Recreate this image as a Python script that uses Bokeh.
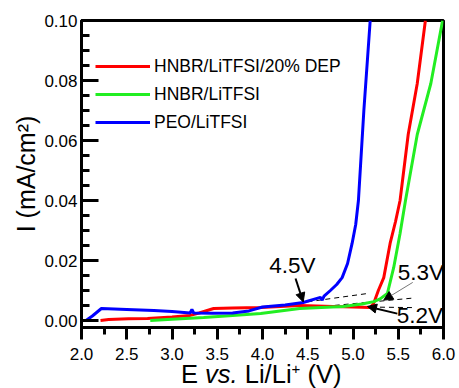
from bokeh.plotting import figure
from bokeh.layouts import column
from bokeh.models import (Range1d, SingleIntervalTicker, PrintfTickFormatter, Label,
                          Arrow, NormalHead, Legend, LegendItem, Div)
from bokeh.embed import file_html
from bokeh.resources import INLINE

# ---- data ----
blue_x = [2.05, 2.12, 2.22, 2.5, 2.8, 3.0, 3.2, 3.22, 3.24, 3.45, 3.67, 3.85, 4.0, 4.25, 4.45,
          4.64, 4.66, 4.68, 4.75, 4.82, 4.88, 4.94, 4.99, 5.03, 5.06, 5.12, 5.19]
blue_y = [0.0, 0.0015, 0.004, 0.0037, 0.0033, 0.003, 0.0025, 0.0037, 0.0025, 0.0024, 0.0025,
          0.0032, 0.0045, 0.0052, 0.006, 0.0077, 0.0068, 0.0081, 0.010, 0.012, 0.0143, 0.019,
          0.0257, 0.032, 0.04, 0.07, 0.10]

red_x = [2.21, 2.3, 2.52, 2.73, 3.0, 3.2, 3.3, 3.46, 3.67, 3.98, 4.41, 4.78, 5.0, 5.19, 5.23,
         5.28, 5.34, 5.41, 5.47, 5.52, 5.61, 5.71, 5.80]
red_y = [0.0, 0.0003, 0.0006, 0.0007, 0.0012, 0.0017, 0.0025, 0.004, 0.0042, 0.0043, 0.005,
         0.0047, 0.0045, 0.0043, 0.0058, 0.010, 0.0143, 0.0257, 0.033, 0.04, 0.062, 0.079, 0.10]

green_x = [2.76, 3.0, 3.35, 3.67, 3.98, 4.41, 4.89, 5.1, 5.23, 5.3, 5.38, 5.45, 5.52, 5.58,
           5.71, 5.86, 5.99]
green_y = [0.0, 0.0004, 0.001, 0.0017, 0.0023, 0.004, 0.0047, 0.0055, 0.0063, 0.0072, 0.009,
           0.0177, 0.029, 0.04, 0.062, 0.079, 0.10]

labels = ["HNBR/LiTFSI/20% DEP", "HNBR/LiTFSI", "PEO/LiTFSI"]

# tangent (onset) guide lines
tan1_x = [4.3, 5.16]
tan1_y = [0.0054, 0.0090]
tan2_x = [4.5, 5.67]
tan2_y = [0.0042, 0.0075]
tan3_x = [4.9, 5.67]
tan3_y = [0.0046, 0.0043]

onset_texts = ["4.5V", "5.3V", "5.2V"]
onset_tx = [4.33, 5.75, 5.74]
onset_ty = [0.0183, 0.016, 0.0017]

FONT = "Liberation Sans"

p = figure(width=459, height=366, output_backend="svg", toolbar_location=None,
           x_range=Range1d(2.0, 6.0), y_range=Range1d(-0.00233, 0.10),
           min_border_left=81, min_border_right=16, min_border_top=20, min_border_bottom=39)
p.background_fill_color = "white"
p.border_fill_color = "white"
p.xgrid.visible = False
p.ygrid.visible = False
p.outline_line_color = "black"
p.outline_line_width = 3
p.outline_line_alpha = 1.0

# x axis
xa = p.xaxis[0]
xa.ticker = SingleIntervalTicker(interval=0.5, num_minor_ticks=2)
xa.formatter = PrintfTickFormatter(format="%.1f")
xa.axis_line_width = 3
xa.major_tick_line_width = 3
xa.minor_tick_line_width = 3
xa.major_tick_in = 0
xa.major_tick_out = 12
xa.minor_tick_in = 0
xa.minor_tick_out = 7
xa.major_label_standoff = 8
xa.major_label_text_font = FONT
xa.major_label_text_font_size = "17px"
xa.major_label_text_color = "black"

# y axis
ya = p.yaxis[0]
ya.ticker = SingleIntervalTicker(interval=0.02, num_minor_ticks=4)
ya.formatter = PrintfTickFormatter(format="%.2f")
ya.axis_line_width = 3
ya.major_tick_line_width = 3
ya.minor_tick_line_width = 3
ya.major_tick_in = 17
ya.major_tick_out = 0
ya.minor_tick_in = 8
ya.minor_tick_out = 0
ya.major_label_standoff = 4
ya.major_label_text_font = FONT
ya.major_label_text_font_size = "17px"
ya.major_label_text_color = "black"
ya.axis_label = "I (mA/cm\u00b2)"
ya.axis_label_text_font = FONT
ya.axis_label_text_font_size = "25px"
ya.axis_label_text_font_style = "normal"
ya.axis_label_standoff = 1
ya.axis_label_text_color = "black"

# guide lines
for tx, ty in [(tan1_x, tan1_y), (tan2_x, tan2_y), (tan3_x, tan3_y)]:
    p.line(tx, ty, line_color="black", line_width=1, line_dash="5 4")

# curves
r_red = p.line(red_x, red_y, line_color="#ff0000", line_width=3)
r_green = p.line(green_x, green_y, line_color="#22ee22", line_width=3)
r_blue = p.line(blue_x, blue_y, line_color="#0000ff", line_width=3)

legend = Legend(items=[LegendItem(label=labels[0], renderers=[r_red]),
                       LegendItem(label=labels[1], renderers=[r_green]),
                       LegendItem(label=labels[2], renderers=[r_blue])],
                location=(14, 191), orientation="vertical")
legend.glyph_width = 55
legend.glyph_height = 28
legend.label_height = 28
legend.spacing = 0
legend.padding = 0
legend.margin = 0
legend.label_standoff = 4
legend.border_line_color = None
legend.background_fill_alpha = 0
legend.label_text_font = FONT
legend.label_text_font_size = "17.5px"
legend.label_text_color = "black"
p.add_layout(legend, "center")

# onset annotations
for t, x, y in zip(onset_texts, onset_tx, onset_ty):
    p.add_layout(Label(x=x, y=y, text=t, text_align="center", text_baseline="middle",
                       text_font=FONT, text_font_size="22.5px", text_color="black"))

p.add_layout(Arrow(end=NormalHead(size=9, fill_color="black", line_color="black"),
                   x_start=4.365, y_start=0.0140, x_end=4.45, y_end=0.0062,
                   line_color="black", line_width=2))
p.add_layout(Arrow(end=NormalHead(size=9, fill_color="black", line_color="black"),
                   x_start=5.66, y_start=0.0127, x_end=5.34, y_end=0.0068,
                   line_color="#777777", line_width=1))
p.add_layout(Arrow(end=NormalHead(size=9, fill_color="black", line_color="black"),
                   x_start=5.49, y_start=0.0023, x_end=5.16, y_end=0.0047,
                   line_color="black", line_width=2))

# x axis title with mixed styles
xtitle = Div(text=('<div style="font-family:\'Liberation Sans\'; font-size:25.5px; '
                   'line-height:17px; color:black; white-space:nowrap; padding-left:181px;">'
                   'E <i>vs.</i> Li/Li<sup style="font-size:15px; line-height:0;">+</sup> (V)</div>'),
             width=459, height=22, margin=0)

layout = column(p, xtitle, spacing=0)
open("out.html", "w").write(file_html(layout, INLINE))
